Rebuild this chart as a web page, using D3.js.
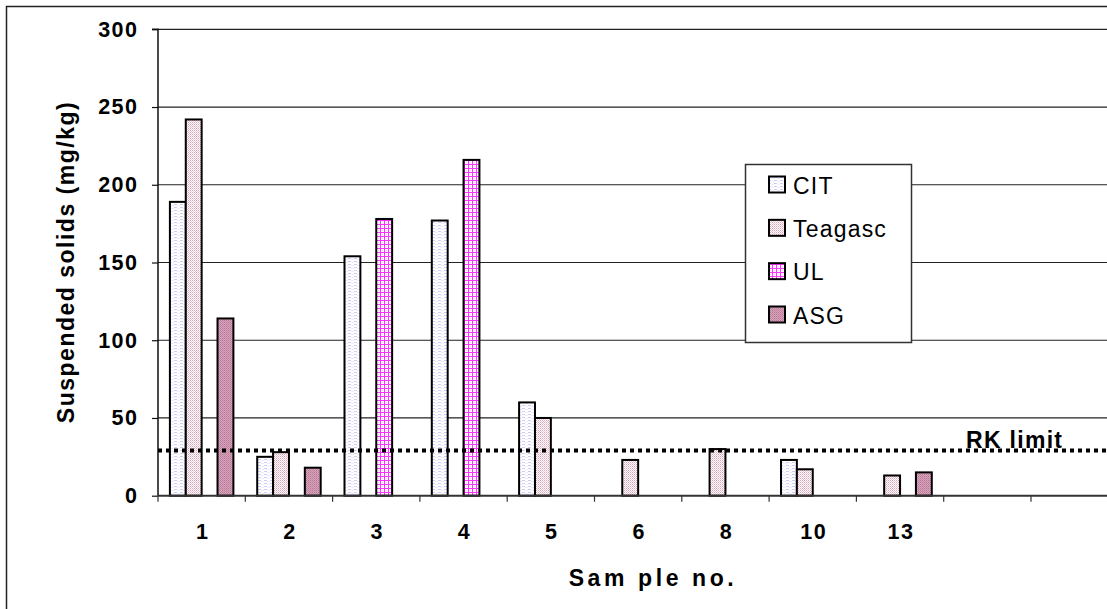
<!DOCTYPE html>
<html><head><meta charset="utf-8">
<script src="https://cdn.jsdelivr.net/npm/d3@7"></script>
<style>
body{margin:0;background:#fff;}
svg{display:block;font-family:"Liberation Sans",Arial,sans-serif;}
</style></head>
<body><svg id="c" width="1107" height="609"></svg>
<script>
const categories = ["1","2","3","4","5","6","8","10","13","",""];
const seriesNames = ["CIT","Teagasc","UL","ASG"];
const citValues     = [189, 25, 154, 177, 60, null, null, 23, null, null, null];
const teagascValues = [242, 28, null, null, 50, 23, 30, 17, 13, null, null];
const ulValues      = [null, null, 178, 216, null, null, null, null, null, null, null];
const asgValues     = [114, 18, null, null, null, null, null, null, 15, null, null];
const yTicks = [0, 50, 100, 150, 200, 250, 300];
const rkLimit = 29;
const rkLabel = "RK limit";
const yTitle = "Suspended solids (mg/kg)";
const xTitle = "Sam ple no.";

(function(){
const svg = d3.select("#c");
const defs = svg.append("defs");
function pat(id, w, h, bg, rects){
  const p = defs.append("pattern").attr("id", id).attr("patternUnits","userSpaceOnUse")
    .attr("width", w).attr("height", h);
  p.append("rect").attr("width", w).attr("height", h).attr("fill", bg);
  rects.forEach(r => p.append("rect").attr("x", r[0]).attr("y", r[1]).attr("width", r[2]).attr("height", r[3]).attr("fill", r[4]));
}
pat("pCIT", 6, 3, "#ffffff", [[0,0,3,1,"#ccccf6"],[3,1,3,1,"#ececfc"]]);
pat("pTea", 2, 2, "#ffffff", [[0,0,1,1,"#dba2b6"],[1,1,1,1,"#ecc8d4"]]);
pat("pUL", 4, 4, "#ffffff", [[0,0,4,1,"#ff33ff"],[0,0,1,4,"#ff33ff"],[2,2,1,1,"#ffccff"]]);
pat("pASG", 2, 2, "#d7a4bd", [[0,0,1,1,"#b87694"],[1,1,1,1,"#c48aa4"]]);
const fills = ["url(#pCIT)","url(#pTea)","url(#pUL)","url(#pASG)"];
const allSeries = [citValues, teagascValues, ulValues, asgValues];

const left = 158, plotTop = 29.3, bottom = 495.7, step = 87.3;
const x = d3.scaleBand().domain(d3.range(categories.length)).range([left, left + step*categories.length]).paddingInner(0).paddingOuter(0);
const y = d3.scaleLinear().domain([0, 300]).range([bottom, plotTop]);
const bw = x.bandwidth()/5.5;
const off = bw*0.75;

svg.append("path").attr("d", "M6.5,609 L6.5,6.5 L1107,6.5").attr("fill","none").attr("stroke","#222").attr("stroke-width",1.5);

svg.append("g").selectAll("line").data(yTicks.filter(d=>d>0)).join("line")
  .attr("x1", left).attr("x2", 1107).attr("y1", d=>y(d)).attr("y2", d=>y(d))
  .attr("stroke","#222").attr("stroke-width",1.2);

const yAxis = svg.append("g").attr("transform", `translate(${left},0)`)
  .call(d3.axisLeft(y).tickValues(yTicks).tickSize(6).tickPadding(15).tickFormat(d3.format("d")));
yAxis.select(".domain").attr("stroke","#111").attr("stroke-width",1.5).attr("d", `M-6,${y(300)}H0V${y(0)}`);
yAxis.selectAll(".tick line").attr("stroke","#111").attr("stroke-width",1.2);
yAxis.selectAll(".tick text").attr("font-size",21.5).attr("font-weight","bold").attr("fill","#000")
  .attr("font-family","Liberation Sans, Arial, sans-serif").style("letter-spacing","1.5px").attr("dx",1.5);

allSeries.forEach((vals, si) => {
  svg.append("g").selectAll("rect").data(vals.map((v,i)=>({v,i})).filter(d=>d.v!=null)).join("rect")
    .attr("x", d => x(d.i) + off + si*bw)
    .attr("y", d => y(d.v))
    .attr("width", bw)
    .attr("height", d => y(0) - y(d.v))
    .attr("fill", fills[si]).attr("stroke","#000").attr("stroke-width",2);
});

const xAxis = svg.append("g").attr("transform", `translate(0,${bottom})`)
  .call(d3.axisBottom(x).tickSize(0).tickPadding(0).tickFormat(i=>categories[i]));
xAxis.select(".domain").remove();
svg.append("line").attr("x1", left).attr("x2", 1107).attr("y1", bottom).attr("y2", bottom)
  .attr("stroke","#333").attr("stroke-width",2);
svg.append("g").selectAll("line").data(d3.range(categories.length+1)).join("line")
  .attr("x1", i => left + i*x.step()).attr("x2", i => left + i*x.step())
  .attr("y1", bottom).attr("y2", bottom+6).attr("stroke","#333").attr("stroke-width",1.2);
xAxis.selectAll(".tick text").attr("font-size",21.5).attr("font-weight","bold").attr("fill","#000")
  .attr("font-family","Liberation Sans, Arial, sans-serif").style("letter-spacing","1.5px")
  .attr("y", 539 - bottom).attr("dy", 0).attr("dx", 1);

svg.append("line").attr("x1", left).attr("x2", 1107).attr("y1", y(rkLimit)).attr("y2", y(rkLimit))
  .attr("stroke","#000").attr("stroke-width",4).attr("stroke-dasharray","4,4");
svg.append("text").attr("x", 966).attr("y", 448).attr("font-size",23).attr("font-weight","bold")
  .style("letter-spacing","1.3px").text(rkLabel);

svg.append("text").attr("transform", `translate(74,262) rotate(-90)`).attr("text-anchor","middle")
  .attr("font-size",23).attr("font-weight","bold").style("letter-spacing","1.5px").text(yTitle);
svg.append("text").attr("x", 653).attr("y", 586).attr("text-anchor","middle")
  .attr("font-size",23).attr("font-weight","bold").style("letter-spacing","3.6px").text(xTitle);

const lg = svg.append("g");
lg.append("rect").attr("x",745.5).attr("y",164.5).attr("width",166).attr("height",178)
  .attr("fill","#fff").attr("stroke","#333").attr("stroke-width",1.5);
const ly = d3.scalePoint().domain(seriesNames).range([185, 315]);
seriesNames.forEach((n, i) => {
  lg.append("rect").attr("x",769).attr("y",ly(n)-8.5).attr("width",16).attr("height",16)
    .attr("fill",fills[i]).attr("stroke","#000").attr("stroke-width",2);
  lg.append("text").attr("x",793).attr("y",ly(n)+8.5).attr("font-size",23).style("letter-spacing","1.2px")
    .text(n);
});
})();
</script></body></html>
